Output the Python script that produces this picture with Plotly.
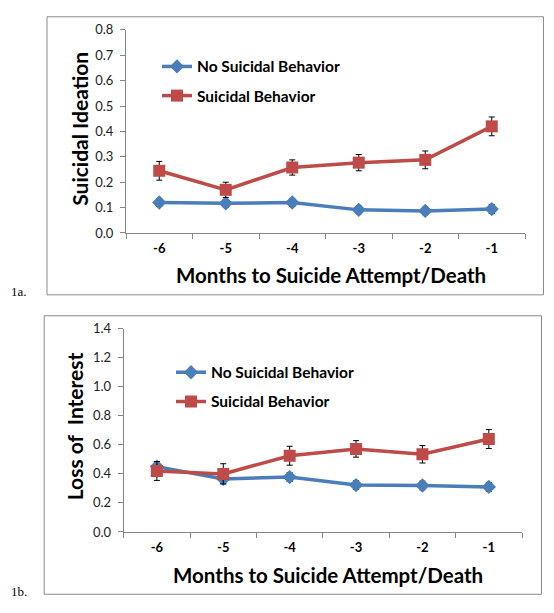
import plotly.graph_objects as go

months = ["-6", "-5", "-4", "-3", "-2", "-1"]

# Panel 1a: Suicidal Ideation
ideation_no_sb = [0.120, 0.117, 0.120, 0.091, 0.087, 0.094]
ideation_no_sb_err = [0.015, 0.015, 0.015, 0.015, 0.015, 0.017]
ideation_sb = [0.245, 0.170, 0.258, 0.277, 0.288, 0.420]
ideation_sb_err = [0.037, 0.030, 0.030, 0.032, 0.035, 0.037]

# Panel 1b: Loss of Interest
interest_no_sb = [0.450, 0.365, 0.378, 0.323, 0.320, 0.310]
interest_no_sb_err = [0.035, 0.030, 0.030, 0.030, 0.030, 0.030]
interest_sb = [0.420, 0.400, 0.525, 0.572, 0.535, 0.640]
interest_sb_err = [0.065, 0.070, 0.065, 0.057, 0.060, 0.065]

series_names = ["No Suicidal Behavior", "Suicidal Behavior"]
y_titles = ["Suicidal Ideation", "Loss of  Interest"]
x_title = "Months to Suicide Attempt/Death"
panel_labels = ["1a.", "1b."]

BLUE = "#4A7EBB"
RED = "#BE4B48"
FONT = "Lato"
W, H = 554, 613

def px_x(v):
    return v / W

def px_y(v):
    return 1 - v / H

fig = go.Figure()

panels = [
    dict(no=ideation_no_sb, no_err=ideation_no_sb_err, sb=ideation_sb, sb_err=ideation_sb_err,
         xa="x", ya="y", legend="legend"),
    dict(no=interest_no_sb, no_err=interest_no_sb_err, sb=interest_sb, sb_err=interest_sb_err,
         xa="x2", ya="y2", legend="legend2"),
]

for p in panels:
    fig.add_trace(go.Scatter(
        x=months, y=p["no"], name=series_names[0], xaxis=p["xa"], yaxis=p["ya"],
        mode="lines+markers", line=dict(color=BLUE, width=3.5),
        marker=dict(symbol="diamond", size=11, color=BLUE),
        error_y=dict(type="data", array=p["no_err"], color="black", thickness=1, width=3),
        legend=p["legend"], legendgroup=p["legend"] + "a"))
    fig.add_trace(go.Scatter(
        x=months, y=p["sb"], name=series_names[1], xaxis=p["xa"], yaxis=p["ya"],
        mode="lines+markers", line=dict(color=RED, width=3.5),
        marker=dict(symbol="square", size=12, color=RED),
        error_y=dict(type="data", array=p["sb_err"], color="black", thickness=1, width=3),
        legend=p["legend"], legendgroup=p["legend"] + "b"))

axis_line = "#868686"
common_x = dict(type="category", range=[-0.5, 5.5], showline=True, linecolor=axis_line,
                linewidth=1, ticks="outside", tickson="boundaries", ticklen=5,
                tickcolor=axis_line, showgrid=False, zeroline=False, ticklabelstandoff=3,
                tickfont=dict(family=FONT, size=13, color="black", weight="bold"))
common_y = dict(showline=True, linecolor=axis_line, linewidth=1, ticks="outside", ticklen=5,
                tickcolor=axis_line, showgrid=False, zeroline=False, tickformat=".1f",
                ticklabelstandoff=4,
                tickfont=dict(family=FONT, size=13, color="#222"))

title_font = dict(family=FONT, size=20.5, color="black", weight="bold")
ytitle_font = dict(family=FONT, size=21, color="black", weight="bold")
legend_font = dict(family=FONT, size=15.5, color="black", weight="bold")

fig.update_layout(
    width=W, height=H, margin=dict(l=0, r=0, t=0, b=0),
    paper_bgcolor="white", plot_bgcolor="white",
    xaxis=dict(common_x, domain=[px_x(126), px_x(525)], anchor="y"),
    yaxis=dict(common_y, domain=[px_y(231), px_y(22.5)], anchor="x", range=[0, 0.8], dtick=0.1),
    xaxis2=dict(common_x, domain=[px_x(123.7), px_x(522)], anchor="y2"),
    yaxis2=dict(common_y, domain=[px_y(538), px_y(329.3)], anchor="x2", range=[0, 1.4], dtick=0.2),
    legend=dict(x=px_x(157), y=px_y(43), xanchor="left", yanchor="top", bgcolor="rgba(0,0,0,0)",
                traceorder="grouped", tracegroupgap=6, font=legend_font),
    legend2=dict(x=px_x(171), y=px_y(357), xanchor="left", yanchor="top", bgcolor="rgba(0,0,0,0)",
                 traceorder="grouped", tracegroupgap=6, font=legend_font),
    shapes=[
        dict(type="rect", xref="paper", yref="paper", x0=px_x(47), x1=px_x(543.5),
             y0=px_y(294.5), y1=px_y(9), line=dict(color="#8c8c8c", width=1)),
        dict(type="rect", xref="paper", yref="paper", x0=px_x(44.2), x1=px_x(541.5),
             y0=px_y(602), y1=px_y(316), line=dict(color="#8c8c8c", width=1)),
    ],
    annotations=[
        # axis titles
        dict(text=x_title, xref="paper", yref="paper", x=px_x(330.5), y=px_y(274),
             xanchor="center", yanchor="middle", showarrow=False, font=title_font),
        dict(text=x_title, xref="paper", yref="paper", x=px_x(328), y=px_y(582),
             xanchor="center", yanchor="middle", showarrow=False, font=title_font),
        dict(text=y_titles[0], xref="paper", yref="paper", x=px_x(80), y=px_y(124),
             xanchor="center", yanchor="middle", showarrow=False, textangle=-90, font=ytitle_font),
        dict(text=y_titles[1], xref="paper", yref="paper", x=px_x(74.5), y=px_y(430),
             xanchor="center", yanchor="middle", showarrow=False, textangle=-90, font=ytitle_font),
        # panel labels
        dict(text=panel_labels[0], xref="paper", yref="paper", x=px_x(9), y=px_y(291),
             xanchor="left", yanchor="middle", showarrow=False,
             font=dict(family="Liberation Serif", size=13, color="black")),
        dict(text=panel_labels[1], xref="paper", yref="paper", x=px_x(9), y=px_y(599),
             xanchor="left", yanchor="middle", showarrow=False,
             font=dict(family="Liberation Serif", size=13, color="black")),
    ],
)

fig.write_html("out.html", post_script="document.body.style.margin='0';",
               config={"displayModeBar": False})
